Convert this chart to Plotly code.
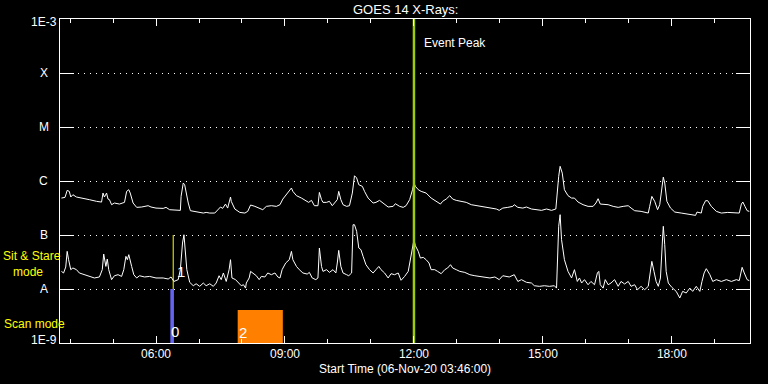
import math
import plotly.graph_objects as go

DATE = "2020-11-06"
X_START, X_END = "03:46", "19:49"

# GOES long channel (upper curve): time (HH:MM) and flux (W/m^2)
LONG_TIME = ["03:48","03:53","03:56","03:59","04:01","04:04","04:09","04:18","04:27","04:37","04:44","04:46","04:48","04:51","04:53","04:55","04:58","05:02","05:09","05:16","05:19","05:22","05:24","05:28","05:33","05:40","05:44","05:49","05:53","06:00","06:10","06:14","06:19","06:26","06:34","06:35","06:38","06:40","06:42","06:45","06:48","06:54","07:01","07:06","07:10","07:15","07:22","07:26","07:30","07:33","07:37","07:40","07:44","07:45","07:50","07:57","08:04","08:08","08:12","08:18","08:25","08:29","08:34","08:41","08:48","08:53","08:57","09:04","09:09","09:11","09:16","09:23","09:27","09:33","09:37","09:41","09:46","09:48","09:51","09:53","09:58","10:02","10:06","10:09","10:13","10:15","10:18","10:21","10:26","10:30","10:34","10:37","10:40","10:43","10:48","10:51","10:56","11:03","11:07","11:12","11:17","11:24","11:31","11:34","11:40","11:45","11:49","11:54","11:58","12:00","12:02","12:06","12:10","12:17","12:24","12:31","12:37","12:40","12:45","12:50","12:54","12:59","13:06","13:13","13:20","13:27","13:34","13:41","13:48","13:55","13:59","14:04","14:11","14:18","14:20","14:25","14:32","14:37","14:44","14:51","14:58","15:05","15:12","15:18","15:19","15:22","15:24","15:27","15:30","15:35","15:40","15:44","15:49","15:56","16:03","16:10","16:14","16:17","16:20","16:26","16:31","16:38","16:45","16:52","16:59","17:03","17:08","17:17","17:27","17:29","17:32","17:36","17:40","17:43","17:46","17:48","17:50","17:53","17:58","18:04","18:13","18:22","18:29","18:33","18:35","18:41","18:43","18:47","18:50","18:55","19:02","19:09","19:18","19:27","19:34","19:37","19:39","19:42","19:45","19:48"]
LONG_FLUX = [4.83e-7,4.98e-7,6.70e-7,6.43e-7,5.05e-7,5.57e-7,5.05e-7,4.83e-7,4.51e-7,4.20e-7,4.07e-7,5.98e-7,5.05e-7,5.98e-7,4.63e-7,4.51e-7,3.64e-7,3.91e-7,3.74e-7,4.02e-7,6.43e-7,6.90e-7,5.98e-7,3.91e-7,3.25e-7,3.30e-7,3.39e-7,3.49e-7,3.30e-7,3.15e-7,3.11e-7,3.25e-7,2.94e-7,2.86e-7,2.86e-7,5.19e-7,9.16e-7,8.53e-7,5.98e-7,3.91e-7,2.82e-7,2.74e-7,2.62e-7,2.55e-7,2.62e-7,2.55e-7,2.55e-7,2.86e-7,3.30e-7,3.11e-7,3.74e-7,3.15e-7,5.05e-7,4.20e-7,3.03e-7,2.62e-7,2.55e-7,2.74e-7,3.59e-7,3.39e-7,3.03e-7,2.94e-7,3.39e-7,3.49e-7,3.39e-7,3.64e-7,4.63e-7,5.98e-7,7.41e-7,6.43e-7,5.35e-7,4.83e-7,4.51e-7,4.02e-7,4.38e-7,3.49e-7,3.49e-7,6.15e-7,4.51e-7,4.02e-7,4.02e-7,4.20e-7,3.49e-7,3.91e-7,4.51e-7,6.43e-7,4.51e-7,3.64e-7,3.39e-7,3.49e-7,5.98e-7,1.25e-6,1.14e-6,8.53e-7,7.96e-7,6.43e-7,4.83e-7,3.91e-7,4.02e-7,4.38e-7,3.91e-7,3.30e-7,3.39e-7,3.80e-7,3.39e-7,3.25e-7,3.49e-7,4.51e-7,6.90e-7,9.16e-7,7.96e-7,6.90e-7,6.43e-7,5.98e-7,4.83e-7,4.20e-7,3.74e-7,4.20e-7,4.63e-7,5.35e-7,4.63e-7,4.38e-7,4.20e-7,4.02e-7,3.64e-7,3.49e-7,3.39e-7,3.30e-7,3.15e-7,3.03e-7,2.86e-7,3.15e-7,3.25e-7,3.39e-7,3.64e-7,3.25e-7,3.15e-7,3.30e-7,3.03e-7,2.94e-7,2.86e-7,3.03e-7,2.86e-7,3.03e-7,4.51e-7,1.22e-6,1.87e-6,1.40e-6,6.90e-7,5.35e-7,4.83e-7,4.83e-7,4.08e-7,3.64e-7,3.39e-7,3.39e-7,3.91e-7,4.70e-7,3.74e-7,3.74e-7,3.64e-7,3.39e-7,3.25e-7,3.39e-7,3.49e-7,3.16e-7,2.82e-7,2.74e-7,2.55e-7,3.39e-7,5.19e-7,4.20e-7,2.94e-7,3.64e-7,8.54e-7,1.18e-6,9.17e-7,4.20e-7,3.16e-7,2.66e-7,2.55e-7,2.45e-7,2.38e-7,2.31e-7,2.66e-7,2.55e-7,3.39e-7,4.32e-7,4.32e-7,3.39e-7,2.74e-7,2.55e-7,2.62e-7,2.62e-7,2.55e-7,3.74e-7,4.08e-7,3.39e-7,2.82e-7,2.74e-7]

# GOES short channel (lower curve)
SHORT_TIME = ["03:48","03:51","03:54","03:56","03:58","04:01","04:04","04:09","04:13","04:20","04:27","04:34","04:41","04:45","04:47","04:50","04:52","04:54","04:58","05:02","05:07","05:12","05:15","05:18","05:20","05:22","05:26","05:29","05:33","05:37","05:44","05:51","06:00","06:10","06:17","06:21","06:25","06:28","06:31","06:34","06:37","06:39","06:40","06:43","06:47","06:52","06:56","07:01","07:06","07:10","07:15","07:20","07:24","07:28","07:31","07:34","07:38","07:42","07:44","07:46","07:51","07:56","07:59","08:02","08:05","08:06","08:10","08:12","08:16","08:20","08:24","08:27","08:32","08:36","08:41","08:46","08:50","08:53","08:56","09:01","09:06","09:09","09:11","09:16","09:20","09:25","09:31","09:34","09:38","09:43","09:46","09:48","09:51","09:53","09:58","10:02","10:07","10:11","10:13","10:15","10:18","10:21","10:26","10:29","10:33","10:35","10:37","10:40","10:43","10:46","10:49","10:53","10:58","11:03","11:07","11:11","11:14","11:19","11:24","11:28","11:33","11:38","11:42","11:47","11:52","11:55","11:58","12:00","12:02","12:06","12:09","12:13","12:17","12:21","12:24","12:29","12:33","12:38","12:43","12:47","12:51","12:54","12:59","13:04","13:11","13:18","13:25","13:32","13:39","13:46","13:53","13:59","14:04","14:09","14:13","14:20","14:25","14:30","14:37","14:44","14:48","14:55","15:02","15:09","15:16","15:19","15:20","15:22","15:24","15:26","15:30","15:35","15:40","15:44","15:48","15:51","15:54","15:58","16:03","16:07","16:12","16:16","16:18","16:20","16:24","16:27","16:31","16:35","16:40","16:45","16:49","16:54","16:59","17:03","17:08","17:12","17:17","17:22","17:27","17:29","17:32","17:35","17:38","17:41","17:44","17:47","17:48","17:50","17:52","17:55","18:00","18:06","18:11","18:15","18:20","18:25","18:29","18:34","18:39","18:42","18:45","18:48","18:53","18:57","19:02","19:09","19:16","19:23","19:30","19:34","19:38","19:41","19:45","19:48"]
SHORT_FLUX = [2.12e-8,1.98e-8,2.55e-8,4.98e-8,3.49e-8,2.28e-8,2.45e-8,2.28e-8,1.98e-8,1.84e-8,1.71e-8,1.60e-8,1.67e-8,2.28e-8,4.44e-8,2.62e-8,3.59e-8,2.28e-8,1.49e-8,1.76e-8,1.84e-8,1.71e-8,2.28e-8,4.02e-8,3.49e-8,4.32e-8,2.62e-8,1.84e-8,1.60e-8,1.76e-8,1.67e-8,1.71e-8,1.60e-8,1.60e-8,1.53e-8,1.67e-8,1.38e-8,1.43e-8,1.49e-8,2.28e-8,7.10e-8,1.01e-7,6.15e-8,2.28e-8,1.33e-8,1.15e-8,1.25e-8,1.12e-8,1.29e-8,1.15e-8,1.25e-8,1.12e-8,1.29e-8,1.76e-8,1.49e-8,1.98e-8,1.38e-8,2.28e-8,3.49e-8,1.60e-8,1.49e-8,1.29e-8,1.15e-8,1.20e-8,1.04e-8,1.29e-8,1.60e-8,2.12e-8,1.92e-8,1.76e-8,1.49e-8,1.71e-8,1.67e-8,1.98e-8,1.84e-8,1.98e-8,1.67e-8,1.60e-8,2.28e-8,3.03e-8,3.49e-8,4.98e-8,3.49e-8,2.62e-8,2.28e-8,1.98e-8,1.89e-8,2.03e-8,1.60e-8,1.49e-8,1.60e-8,5.74e-8,2.62e-8,2.12e-8,2.28e-8,2.03e-8,2.28e-8,1.98e-8,3.03e-8,5.19e-8,2.62e-8,1.98e-8,1.84e-8,1.76e-8,1.98e-8,1.55e-7,1.55e-7,1.17e-7,5.74e-8,5.35e-8,4.02e-8,2.82e-8,2.28e-8,1.98e-8,2.28e-8,2.62e-8,2.28e-8,1.98e-8,1.60e-8,1.92e-8,1.84e-8,1.98e-8,1.45e-8,1.71e-8,2.12e-8,3.49e-8,5.74e-8,8.18e-8,6.34e-8,4.98e-8,3.74e-8,3.85e-8,3.49e-8,3.03e-8,2.28e-8,2.28e-8,2.12e-8,1.92e-8,2.28e-8,2.45e-8,2.82e-8,2.45e-8,2.28e-8,2.12e-8,2.03e-8,1.84e-8,1.76e-8,1.71e-8,1.67e-8,1.60e-8,1.67e-8,1.49e-8,1.76e-8,1.71e-8,1.67e-8,1.84e-8,1.38e-8,1.49e-8,1.33e-8,1.29e-8,1.15e-8,1.12e-8,1.15e-8,1.12e-8,1.15e-8,1.04e-8,2.28e-8,1.45e-7,2.38e-7,8.18e-8,3.49e-8,2.12e-8,1.60e-8,2.28e-8,1.38e-8,1.60e-8,1.29e-8,1.49e-8,1.20e-8,1.38e-8,1.20e-8,1.98e-8,2.12e-8,1.20e-8,1.04e-8,1.49e-8,1.20e-8,1.29e-8,1.49e-8,1.12e-8,1.38e-8,1.24e-8,1.38e-8,1.12e-8,1.20e-8,9.70e-9,1.12e-8,9.70e-9,1.12e-8,1.60e-8,3.25e-8,2.12e-8,1.38e-8,1.12e-8,1.60e-8,8.79e-8,1.45e-7,6.61e-8,2.12e-8,1.29e-8,1.07e-8,9.04e-9,6.81e-9,9.04e-9,8.42e-9,1.04e-8,9.04e-9,1.12e-8,9.04e-9,1.38e-8,1.98e-8,2.38e-8,1.84e-8,1.38e-8,1.49e-8,1.38e-8,1.49e-8,1.38e-8,1.49e-8,1.43e-8,2.52e-8,1.98e-8,1.49e-8,1.43e-8]

# Flux class levels
LEVEL_VALUES = [1e-3, 1e-4, 1e-5, 1e-6, 1e-7, 1e-8, 1e-9]
LEVEL_LABELS = ["1E-3", "X", "M", "C", "B", "A", "1E-9"]

EVENT_PEAK = "12:00"
# Observation modes: label, start, end, flux low, flux high
MODE0 = ("0", "06:20", "06:25", 1e-9, 1e-8)    # scan mode (blue)
MODE1 = ("1", "06:24", "06:24", 1e-8, 1e-7)    # sit & stare (yellow)
MODE2 = ("2", "07:54", "08:57", 1e-9, 4.1e-9)  # scan mode (orange)


def ts(hm):
    return f"{DATE} {hm}"


FONT = "Liberation Sans"
fig = go.Figure()


def rect(mode, color):
    _, s, e, lo, hi = mode
    fig.add_trace(go.Scatter(x=[ts(s), ts(e), ts(e), ts(s), ts(s)], y=[lo, lo, hi, hi, lo],
                             mode="lines", fill="toself", fillcolor=color,
                             line=dict(width=0, color=color), hoverinfo="skip"))


rect(MODE2, "#ff8000")
rect(MODE0, "#6464f0")
fig.add_trace(go.Scatter(x=[ts(MODE1[1]), ts(MODE1[2])], y=[MODE1[3], MODE1[4]], mode="lines",
                         line=dict(color="#ffff00", width=1), hoverinfo="skip"))

fig.add_trace(go.Scatter(x=[ts(t) for t in LONG_TIME], y=LONG_FLUX, mode="lines",
                         line=dict(color="white", width=1)))
fig.add_trace(go.Scatter(x=[ts(t) for t in SHORT_TIME], y=SHORT_FLUX, mode="lines",
                         line=dict(color="white", width=1)))
fig.add_trace(go.Scatter(x=[ts(EVENT_PEAK), ts(EVENT_PEAK)], y=[LEVEL_VALUES[-1], LEVEL_VALUES[0]],
                         mode="lines", line=dict(color="#9ccc10", width=2.5), hoverinfo="skip"))

ann = []
for v, lab in zip(LEVEL_VALUES, LEVEL_LABELS):
    shift = -3 if v == LEVEL_VALUES[0] else (3 if v == LEVEL_VALUES[-1] else 0)
    ann.append(dict(x=-0.0232, xref="paper", y=math.log10(v), yref="y", text=lab, showarrow=False,
                    xanchor="center", yanchor="middle", yshift=shift,
                    font=dict(family=FONT, size=12, color="white")))

ann.append(dict(x=0.5, xref="paper", y=1.029, yref="paper", text="GOES 14 X-Rays:", showarrow=False,
                xanchor="center", yanchor="middle", font=dict(family=FONT, size=13, color="white")))
ann.append(dict(x=0.5, xref="paper", y=-0.080, yref="paper", text="Start Time (06-Nov-20 03:46:00)",
                showarrow=False, xanchor="center", yanchor="middle",
                font=dict(family=FONT, size=12, color="white")))
ann.append(dict(x=ts(EVENT_PEAK), xref="x", y=0.926, yref="paper", text="Event Peak", showarrow=False,
                xanchor="left", yanchor="middle", xshift=8, font=dict(family=FONT, size=12, color="white")))
# yellow mode labels
ann.append(dict(x=-0.084, xref="paper", y=-7.531, yref="y",
                text="Sit & Stare<br>\u00a0\u00a0\u00a0mode", align="left", showarrow=False,
                xanchor="left", yanchor="middle", borderpad=0,
                font=dict(family=FONT, size=12, color="#ffff00")))
ann.append(dict(x=-0.084, xref="paper", y=-8.639, yref="y", text="Scan mode", showarrow=False,
                xanchor="left", yanchor="middle", font=dict(family=FONT, size=12, color="#ffff00")))
# mode number labels
ann.append(dict(x=ts(MODE0[1]), xref="x", y=-8.79, yref="y", text=MODE0[0], showarrow=False,
                xanchor="left", yanchor="middle", xshift=-1, font=dict(family=FONT, size=15, color="white")))
ann.append(dict(x=ts(MODE1[1]), xref="x", y=-7.68, yref="y", text=MODE1[0], showarrow=False,
                xanchor="left", yanchor="middle", xshift=2, font=dict(family=FONT, size=15, color="white")))
ann.append(dict(x=ts(MODE2[1]), xref="x", y=-8.81, yref="y", text=MODE2[0], showarrow=False,
                xanchor="left", yanchor="middle", xshift=-1, font=dict(family=FONT, size=15, color="white")))

fig.update_layout(
    width=768, height=384,
    margin=dict(l=60, r=18, t=19, b=41, pad=0),
    paper_bgcolor="black", plot_bgcolor="black",
    showlegend=False, hovermode=False,
    annotations=ann,
    xaxis=dict(type="date", range=[ts(X_START), ts(X_END)], showline=True, linecolor="white", linewidth=1,
               mirror="allticks", ticks="inside", ticklen=7, tickcolor="white", tickwidth=1,
               tick0=ts("00:00"), dtick=3 * 3600000, tickformat="%H:%M",
               tickfont=dict(family=FONT, size=12, color="white"),
               showgrid=False, zeroline=False,
               minor=dict(dtick=3600000, ticks="inside", ticklen=4, tickcolor="white", showgrid=False)),
    yaxis=dict(type="log", range=[-9, -3], showline=True, linecolor="white", linewidth=1,
               mirror="allticks", ticks="inside", ticklen=14, tickcolor="white", tickwidth=1,
               tickvals=LEVEL_VALUES, showticklabels=False,
               showgrid=True, gridcolor="white", gridwidth=1, griddash="1px,5px", zeroline=False),
)

# remove the browser's default 8px page margin so the figure sits at the window's corner
fig.write_html("out.html", config={"displayModeBar": False},
               post_script="document.body.style.margin='0';document.body.style.background='black';")
